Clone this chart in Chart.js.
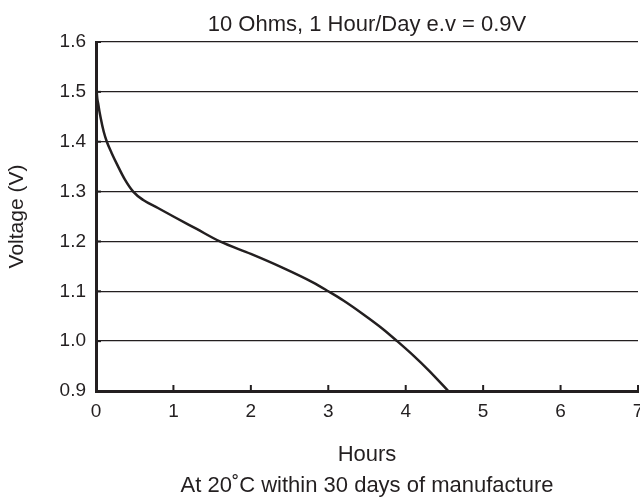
<!DOCTYPE html>
<html>
<head>
<meta charset="utf-8">
<script src="https://cdn.jsdelivr.net/npm/chart.js@4"></script>
<style>
  html, body { margin: 0; padding: 0; background: #fff; }
  #wrap { width: 640px; height: 497px; }
</style>
</head>
<body>
<div id="wrap"><canvas id="c" width="640" height="497"></canvas></div>
<script>
const hours   = [0, 0.01, 0.03, 0.06, 0.10, 0.14, 0.20, 0.28, 0.37, 0.48, 0.61, 0.8, 1.0, 1.3, 1.6, 2.0, 2.4, 2.8, 3.0, 3.2, 3.45, 3.7, 3.89, 4.1, 4.3, 4.55];
const voltage = [1.55, 1.50, 1.475, 1.448, 1.42, 1.40, 1.378, 1.352, 1.325, 1.30, 1.283, 1.267, 1.25, 1.225, 1.2, 1.175, 1.148, 1.118, 1.1, 1.081, 1.054, 1.025, 1.0, 0.971, 0.941, 0.9];
const xTicks = [0, 1, 2, 3, 4, 5, 6, 7];
const yTicks = [0.9, 1.0, 1.1, 1.2, 1.3, 1.4, 1.5, 1.6];
const chartTitle = '10 Ohms, 1 Hour/Day e.v = 0.9V';
const xTitle = 'Hours';
const yTitle = 'Voltage (V)';
const footNote = 'At 20˚C within 30 days of manufacture';

const FONT = "'Liberation Sans', Arial, sans-serif";
const TXT = '#231f20';

const innerTicks = {
  id: 'innerTicks',
  afterDatasetsDraw(chart) {
    const ctx = chart.ctx, xs = chart.scales.x, ys = chart.scales.y;
    ctx.save();
    ctx.strokeStyle = '#231f20';
    ctx.lineWidth = 2;
    xTicks.forEach(v => {
      const px = xs.getPixelForValue(v);
      ctx.beginPath();
      ctx.moveTo(px, ys.bottom);
      ctx.lineTo(px, ys.bottom - 6);
      ctx.stroke();
    });
    yTicks.forEach(v => {
      const py = ys.getPixelForValue(v);
      ctx.beginPath();
      ctx.moveTo(xs.left, py);
      ctx.lineTo(xs.left + 5, py);
      ctx.stroke();
    });
    ctx.restore();
  }
};

const labelOnlyAxis = (pos, weight, text, h, pad) => ({
  type: 'linear', position: pos, weight: weight, min: 0, max: 7,
  afterFit: s => { s.height = h; s.paddingLeft = 0; s.paddingRight = 0; },
  ticks: { display: false },
  grid: { display: false, drawTicks: false },
  border: { display: false },
  title: { display: true, text: text, color: TXT, font: { family: FONT, size: 22 }, padding: pad }
});

new Chart(document.getElementById('c'), {
  type: 'line',
  data: {
    datasets: [{
      data: hours.map((h, i) => ({ x: h, y: voltage[i] })),
      xAxisID: 'x', yAxisID: 'y',
      borderColor: '#231f20',
      borderWidth: 2.5,
      pointRadius: 0,
      cubicInterpolationMode: 'monotone',
      fill: false
    }]
  },
  options: {
    responsive: false,
    animation: false,
    layout: { padding: { left: 5, right: 2, top: 0, bottom: 0 } },
    plugins: {
      legend: { display: false },
      tooltip: { enabled: false },
      title: { display: false }
    },
    scales: {
      x: {
        type: 'linear', position: 'bottom', weight: 0,
        min: 0, max: 7,
        afterBuildTicks: s => { s.ticks = xTicks.map(v => ({ value: v })); },
        afterFit: s => { s.paddingRight = 0; s.paddingLeft = 0; s.height = 74; },
        ticks: { color: TXT, font: { family: FONT, size: 19 }, padding: 9 },
        grid: { display: false, drawTicks: false },
        border: { display: true, color: '#231f20', width: 3 },
        title: {
          display: true, text: xTitle, color: TXT,
          font: { family: FONT, size: 22 }, padding: { top: 0, bottom: -3 }
        }
      },
      xTop: labelOnlyAxis('top', 0, chartTitle, 42, { top: 12, bottom: 0 }),
      xFoot: labelOnlyAxis('bottom', 1, footNote, 32, { top: 0, bottom: -2 }),
      y: {
        type: 'linear',
        min: 0.9, max: 1.6,
        afterBuildTicks: s => { s.ticks = yTicks.map(v => ({ value: v })); },
        afterFit: s => { s.width = 91; s.paddingTop = 0; s.paddingBottom = 0; },
        ticks: {
          color: TXT, font: { family: FONT, size: 19 }, padding: 10,
          callback: v => Number(v).toFixed(1)
        },
        grid: { color: '#231f20', lineWidth: 1.3, drawTicks: false },
        border: { display: true, color: '#231f20', width: 3 },
        title: {
          display: true, text: yTitle, color: TXT,
          font: { family: FONT, size: 21 }, padding: { top: 0, bottom: 18 }
        }
      }
    }
  },
  plugins: [innerTicks]
});
</script>
</body>
</html>
